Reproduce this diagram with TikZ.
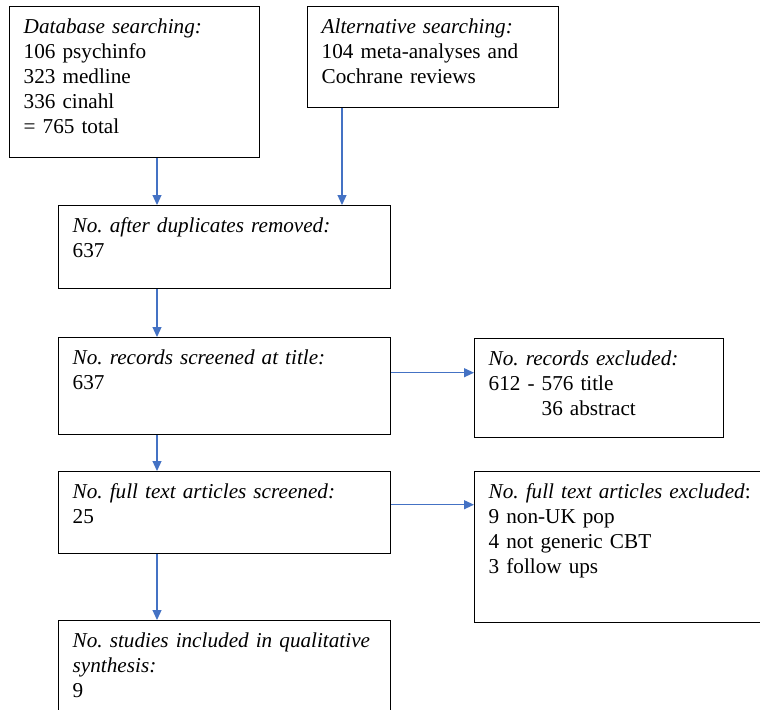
\documentclass[tikz,border=0pt]{standalone}
\usepackage{fontspec}
\setmainfont{Liberation Serif}
\usepackage{tikz}
\usetikzlibrary{arrows.meta,calc}
\definecolor{flow}{HTML}{4472C4}
\frenchspacing

\begin{document}
\begin{tikzpicture}[
  x=0.5pt,y=-0.5pt,
  box/.style={draw,line width=0.7pt,anchor=north west,align=left,inner xsep=7pt,inner ysep=2pt,text height=11.5pt,font=\fontsize{10.6}{12.5}\selectfont},
  ar/.style={-{Triangle[length=5pt,width=4.5pt]},flow,line width=0.6pt},
]
\clip (0,0) rectangle (760,709);

\node[box,text width=111pt,text depth=60pt] (db) at (9,6) {\textit{Database searching:}\\106 psychinfo\\323 medline\\336 cinahl\\= 765 total};
\node[box,text width=111.5pt,text depth=35pt] (alt) at (307,6) {\textit{Alternative searching:}\\104 meta-analyses and\\Cochrane reviews};

\node[box,text width=152pt,text depth=26pt] (dup) at (58,205) {\textit{No. after duplicates removed:}\\637};
\node[box,text width=152pt,text depth=33pt] (title) at (58,337) {\textit{No. records screened at title:}\\637};
\node[box,text width=110.5pt,text depth=34pt] (excl) at (474,338) {\textit{No. records excluded:}\\612 - 576 title\\\hphantom{612 - }36 abstract};
\node[box,text width=152pt,text depth=25.5pt] (full) at (58,471) {\textit{No. full text articles screened:}\\25};
\node[box,text width=136pt,text depth=60pt] (fexcl) at (474,471) {\textit{No. full text articles excluded}:\\9 non-UK pop\\4 not generic CBT\\3 follow ups};
\node[box,text width=152pt,text depth=50pt] (incl) at (58,620) {\textit{No. studies included in qualitative}\\\textit{synthesis:}\\9};

% vertical lines of the flow
\coordinate (spine) at (157,0);
\coordinate (side) at (342,0);

\draw[ar] (spine |- db.south) -- (spine |- dup.north);
\draw[ar] (side |- alt.south) -- (side |- dup.north);
\draw[ar] (spine |- dup.south) -- (spine |- title.north);
\draw[ar] (spine |- title.south) -- (spine |- full.north);
\draw[ar] (spine |- full.south) -- (spine |- incl.north);
\draw[ar] ([yshift=6.75pt]title.east) -- ([yshift=6.75pt]title.east -| excl.west);
\draw[ar] ([yshift=4pt]full.east) -- ([yshift=4pt]full.east -| fexcl.west);
\end{tikzpicture}
\end{document}
